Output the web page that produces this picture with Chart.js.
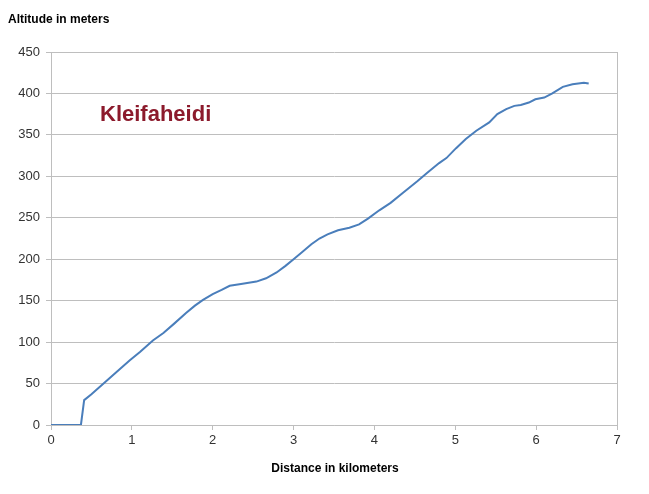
<!DOCTYPE html>
<html>
<head>
<meta charset="utf-8">
<script src="https://cdn.jsdelivr.net/npm/chart.js@4/dist/chart.umd.min.js"></script>
<style>
  html, body { margin: 0; padding: 0; background: #fff; }
  #wrap { width: 649px; height: 494px; }
</style>
</head>
<body>
<div id="wrap"><canvas id="profileChart" width="649" height="494"></canvas></div>
<script>
// track profile
const distanceKm = [0, 0.37, 0.41, 0.50, 0.65, 0.80, 0.975, 1.10, 1.26, 1.39, 1.52, 1.67, 1.78, 1.88,
    2.00, 2.11, 2.21, 2.35, 2.54, 2.66, 2.79, 2.90, 3.00, 3.10, 3.22, 3.32, 3.42, 3.55, 3.69, 3.81, 3.92,
    4.06, 4.20, 4.35, 4.53, 4.65, 4.80, 4.89, 5.01, 5.13, 5.26, 5.42, 5.52, 5.63, 5.73, 5.81, 5.91,
    5.99, 6.10, 6.20, 6.33, 6.45, 6.59, 6.65];
const altitudeM = [0, 0, 30, 37, 50, 63, 78, 88, 102, 111, 122, 135, 144, 151,
    158, 163, 168, 170, 173, 177, 184, 192, 200, 208, 218, 225, 230, 235, 238, 242, 249,
    259, 268, 280, 294, 304, 316, 322, 334, 345, 355, 365, 375, 381, 385, 386, 389,
    393, 395, 400, 408, 411, 413, 412];

const yAxisTitle = 'Altitude in meters';
const xAxisTitle = 'Distance in kilometers';
const chartLabel = 'Kleifaheidi';

const gridGray = '#bebebe';

const textPlugin = {
    id: 'textPlugin',
    afterDraw: function (chart) {
        const ctx = chart.ctx;
        ctx.save();
        ctx.fillStyle = '#000';
        ctx.font = "bold 12px 'Liberation Sans', Arial, sans-serif";
        ctx.textAlign = 'left';
        ctx.textBaseline = 'alphabetic';
        ctx.fillText(yAxisTitle, 8, 23);

        ctx.textAlign = 'center';
        const area = chart.chartArea;
        ctx.fillText(xAxisTitle, (area.left + area.right) / 2 + 1, 472);

        ctx.fillStyle = '#8c1a2c';
        ctx.font = "bold 22px 'Liberation Sans', Arial, sans-serif";
        ctx.textAlign = 'left';
        ctx.fillText(chartLabel, 100, 121);
        ctx.restore();
    }
};

const data = distanceKm.map((d, i) => ({ x: d, y: altitudeM[i] }));

new Chart(document.getElementById('profileChart'), {
    type: 'scatter',
    data: {
        datasets: [{
            data: data,
            showLine: true,
            borderColor: '#4a7ebb',
            borderWidth: 2,
            pointRadius: 0,
            tension: 0
        }]
    },
    options: {
        responsive: false,
        animation: false,
        layout: { padding: { top: 52, right: 32, left: 0, bottom: 0 } },
        plugins: {
            legend: { display: false },
            tooltip: { enabled: false }
        },
        scales: {
            x: {
                type: 'linear',
                min: 0,
                max: 7,
                afterFit: function (scale) { scale.height = 69; },
                ticks: {
                    stepSize: 1,
                    color: '#333',
                    padding: 3,
                    font: { family: "'Liberation Sans', Arial, sans-serif", size: 13 }
                },
                grid: {
                    color: ctx => (ctx.tick && ctx.tick.value === 7) ? gridGray : 'rgba(0,0,0,0)',
                    tickColor: gridGray,
                    tickLength: 5,
                    lineWidth: 1
                },
                border: { color: gridGray, width: 1 }
            },
            y: {
                min: 0,
                max: 450,
                afterFit: function (scale) { scale.width = 51; },
                ticks: {
                    stepSize: 50,
                    color: '#333',
                    padding: 6,
                    font: { family: "'Liberation Sans', Arial, sans-serif", size: 13 }
                },
                grid: {
                    color: gridGray,
                    tickColor: gridGray,
                    tickLength: 5,
                    lineWidth: 1
                },
                border: { color: gridGray, width: 1 }
            }
        }
    },
    plugins: [textPlugin]
});
</script>
</body>
</html>
